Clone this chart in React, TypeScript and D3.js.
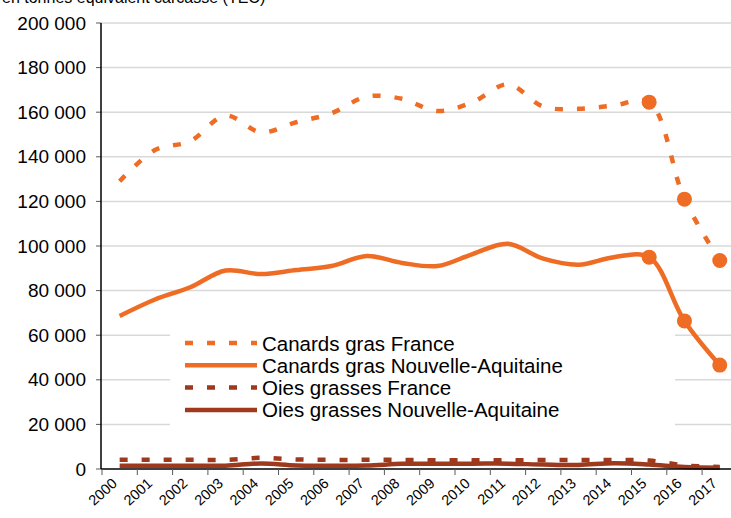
import { useMemo } from "react";
import * as d3 from "d3";

const WIDTH = 731;
const HEIGHT = 518;

const years = ["2000", "2001", "2002", "2003", "2004", "2005", "2006", "2007", "2008",
  "2009", "2010", "2011", "2012", "2013", "2014", "2015", "2016", "2017"];

const canardsFrance = [129000, 143000, 147000, 158500, 151000, 155500, 159500, 167000, 166000,
  160500, 164500, 172500, 162500, 161500, 163000, 164500, 121000, 93500];
const canardsNA = [68600, 76000, 81500, 89000, 87400, 89200, 91000, 95500, 92400,
  91000, 96400, 101000, 94300, 91600, 95000, 95000, 66400, 46600];
const oiesFrance = [4100, 4100, 4100, 4100, 5000, 4300, 4100, 4100, 4100,
  3900, 3900, 3900, 4000, 4000, 4000, 3800, 1600, 900];
const oiesNA = [1500, 1500, 1500, 1500, 2500, 1600, 1500, 1600, 2300,
  2400, 2400, 2400, 2000, 1800, 2600, 2000, 900, 600];

const yTicks = [0, 20000, 40000, 60000, 80000, 100000, 120000, 140000, 160000, 180000, 200000];
const markerYears = ["2015", "2016", "2017"];

const ORANGE = "#ee6c24";
const BROWN = "#9e391d";
const FONT = "'Liberation Sans', Arial, sans-serif";

const series = [
  { name: "Canards gras France", values: canardsFrance, color: ORANGE, dashed: true, markers: true },
  { name: "Canards gras Nouvelle-Aquitaine", values: canardsNA, color: ORANGE, dashed: false, markers: true },
  { name: "Oies grasses France", values: oiesFrance, color: BROWN, dashed: true, markers: false },
  { name: "Oies grasses Nouvelle-Aquitaine", values: oiesNA, color: BROWN, dashed: false, markers: false },
];

const fmt = (v: number) => d3.format(",")(v).replace(/,/g, " ");

export default function App() {
  const xScale = useMemo(() => d3.scaleBand().domain(years).range([102, 737.4]).padding(0), []);
  const yScale = useMemo(() => d3.scaleLinear().domain([0, 200000]).range([469, 23]), []);
  const cx = (y: string) => (xScale(y) as number) + xScale.bandwidth() / 2;

  const lineGen = d3
    .line<number>()
    .x((_, i) => cx(years[i]))
    .y((d) => yScale(d))
    .curve(d3.curveCatmullRom.alpha(0.5));

  const grid = yTicks.map((t) => (
    <g key={t}>
      {t > 0 && (
        <line x1={101} x2={WIDTH} y1={yScale(t)} y2={yScale(t)} stroke="#d9d9d9" strokeWidth={1.5} />
      )}
      <line x1={96} x2={101} y1={yScale(t)} y2={yScale(t)} stroke="#595959" strokeWidth={1} />
      <text x={86} y={yScale(t)} textAnchor="end" dominantBaseline="central" fontSize={19} fill="#000">
        {fmt(t)}
      </text>
    </g>
  ));

  const xTicks = years.concat(["end"]).map((y, i) => {
    const x = 102 + i * xScale.bandwidth();
    return <line key={i} x1={x} x2={x} y1={469} y2={475} stroke="#595959" strokeWidth={1} />;
  });

  const xLabels = years.map((y) => (
    <text
      key={y}
      transform={`translate(${cx(y) - 5},${481}) rotate(-42)`}
      textAnchor="end"
      dominantBaseline="central"
      fontSize={14.5}
      fill="#000"
    >
      {y}
    </text>
  ));

  const lines = series.map((s) => (
    <g key={s.name}>
      <path
        d={lineGen(s.values) || ""}
        fill="none"
        stroke={s.color}
        strokeWidth={4.5}
        strokeDasharray={s.dashed ? "8 14" : undefined}
      />
      {s.markers &&
        markerYears.map((y) => (
          <circle key={y} cx={cx(y)} cy={yScale(s.values[years.indexOf(y)])} r={7.5} fill={s.color} />
        ))}
    </g>
  ));

  const legend = (
    <g>
      <rect x={170} y={322} width={505} height={110} fill="#fff" />
      {series.map((s, i) => {
        const y = 343 + i * 22.3;
        return (
          <g key={s.name}>
            <line
              x1={185}
              x2={257}
              y1={y}
              y2={y}
              stroke={s.color}
              strokeWidth={4.5}
              strokeDasharray={s.dashed ? "8 14" : undefined}
            />
            <text x={262} y={y} dominantBaseline="central" fontSize={20.5} fill="#000">
              {s.name}
            </text>
          </g>
        );
      })}
    </g>
  );

  return (
    <svg
      width={WIDTH}
      height={HEIGHT}
      style={{ position: "absolute", left: 0, top: 0, background: "#fff" }}
      fontFamily={FONT}
    >
      <text x={2} y={3} fontSize={16} fill="#000">
        en tonnes équivalent carcasse (TEC)
      </text>
      <g>{grid}</g>
      <g>{legend}</g>
      <g>{lines}</g>
      <line x1={101} x2={WIDTH} y1={469} y2={469} stroke="#000" strokeWidth={1.5} />
      <line x1={101} x2={101} y1={23} y2={469} stroke="#000" strokeWidth={1.5} />
      <g>{xTicks}</g>
      <g>{xLabels}</g>
    </svg>
  );
}
